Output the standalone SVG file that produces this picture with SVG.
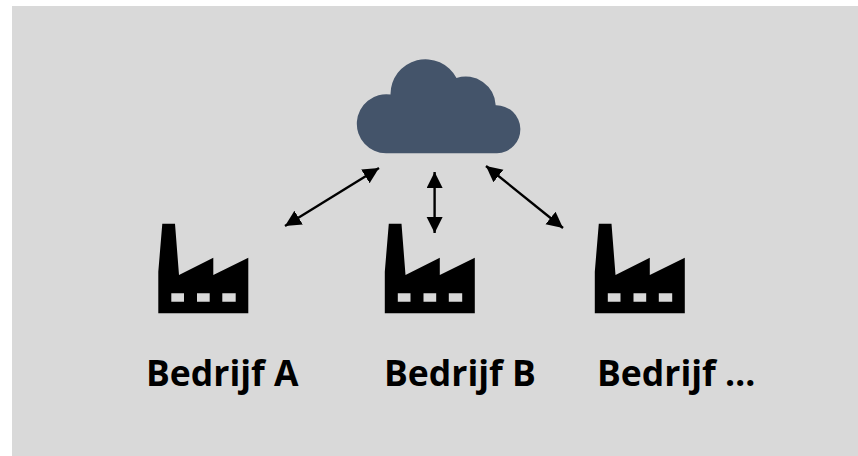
<svg xmlns="http://www.w3.org/2000/svg" width="858" height="456" viewBox="0 0 858 456">
<style>
.lbl{font-family:"Open Sans","Liberation Sans",sans-serif;font-weight:700;font-size:35.5px;fill:#000}
.conn{stroke:#000;stroke-width:2.4;fill:none;marker-start:url(#ah);marker-end:url(#ah)}
</style>
<defs>
<marker id="ah" markerUnits="userSpaceOnUse" markerWidth="18" markerHeight="18" refX="16" refY="8" orient="auto-start-reverse"><path d="M0 0L16 8L0 16Z" fill="#000"/></marker>
<g id="factory"><path fill-rule="evenodd" d="M162.3 223.7H175L179 275L213.3 257.7V275L248.3 257.7V313.3H158.3V271.7ZM171.3 293.3V301.7H184V293.3ZM197 293.3V301.7H209.7V293.3ZM222.3 293.3V301.7H235.7V293.3Z" fill="#000"/></g>
</defs>
<rect id="bg" x="12" y="6" width="846" height="450" fill="#d9d9d9"/>
<g id="connectors">
<path class="conn" d="M285 226L379 168"/>
<path class="conn" d="M434.6 172V233"/>
<path class="conn" d="M486 166L563 228"/>
</g>
<g id="cloud"><path d="M386 153.3A29.5 29.5 0 1 1 390.5 94.6A35 35 0 0 1 456.5 78A30 30 0 0 1 495.7 105.3A24 24 0 1 1 497 153.3Z" fill="#44546a"/></g>
<g id="factory-a"><use href="#factory"/></g>
<g id="factory-b"><use href="#factory" x="226.5"/></g>
<g id="factory-c"><use href="#factory" x="436.5"/></g>
<g id="label-a"><text class="lbl" x="146" y="386">Bedrijf A</text></g>
<g id="label-b"><text class="lbl" x="384" y="386">Bedrijf B</text></g>
<g id="label-c"><text class="lbl" x="597" y="386">Bedrijf …</text></g>
</svg>
